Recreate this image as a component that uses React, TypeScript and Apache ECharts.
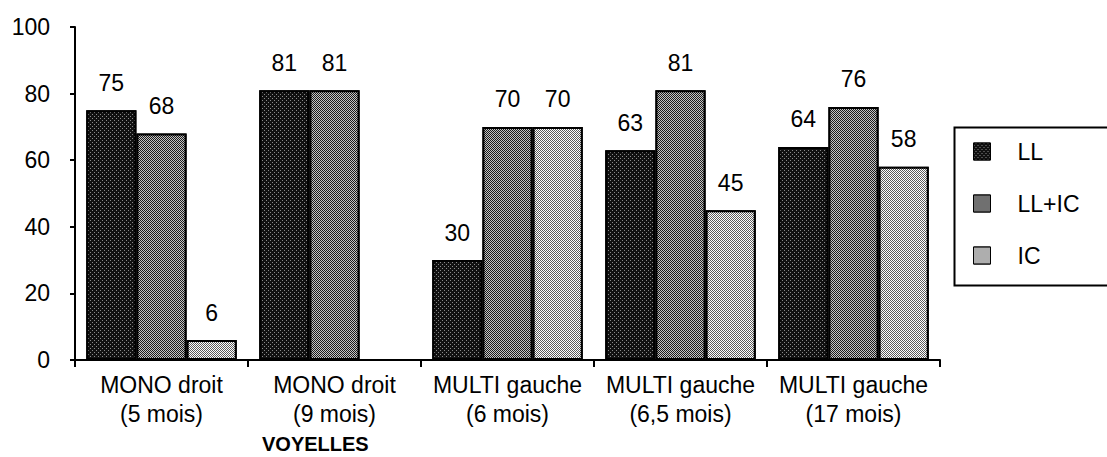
import React, { useEffect, useRef } from "react";
import * as echarts from "echarts";

const categories = [
  "MONO droit\n(5 mois)",
  "MONO droit\n(9 mois)",
  "MULTI gauche\n(6 mois)",
  "MULTI gauche\n(6,5 mois)",
  "MULTI gauche\n(17 mois)",
];
const seriesNames = ["LL", "LL+IC", "IC"];
const llValues: (number | string)[] = [75, 81, 30, 63, 64];
const llicValues: (number | string)[] = [68, 81, 70, 81, 76];
const icValues: (number | string)[] = [6, "-", 70, 45, 58];
const yTicks = [0, 20, 40, 60, 80, 100];
const xAxisTitle = "VOYELLES";

const FONT = "Liberation Sans, Arial, Helvetica, sans-serif";

const styles = [
  {
    color: "#111111",
    decal: {
      symbol: "rect",
      symbolSize: 1,
      dashArrayX: [[1, 3], [0, 2, 1, 1]],
      dashArrayY: [1, 1],
      color: "#8a8a8a",
    },
  },
  {
    color: "#1c1c1c",
    decal: {
      symbol: "rect",
      symbolSize: 1,
      dashArrayX: [[1, 1], [0, 1, 1, 0]],
      dashArrayY: [1, 0],
      color: "#c4c4c4",
    },
  },
  {
    color: "#5c5c5c",
    decal: {
      symbol: "rect",
      symbolSize: 1,
      dashArrayX: [[1, 1], [0, 1, 1, 0]],
      dashArrayY: [1, 0],
      color: "#ffffff",
    },
  },
];

export default function App() {
  const ref = useRef<HTMLDivElement>(null);
  useEffect(() => {
    if (!ref.current) return;
    const chart = echarts.init(ref.current, null, { renderer: "svg" });
    const dataSets = [llValues, llicValues, icValues];
    chart.setOption({
      animation: false,
      backgroundColor: "#ffffff",
      textStyle: { fontFamily: FONT },
      grid: { left: 75, right: 167, top: 27, bottom: 97 },
      legend: {
        orient: "vertical",
        left: 968,
        top: 135,
        icon: "rect",
        itemWidth: 17,
        itemHeight: 17,
        itemGap: 29,
        data: seriesNames,
        textStyle: {
          fontSize: 23,
          lineHeight: 23,
          color: "#000",
          fontFamily: FONT,
          padding: [0, 0, 0, 22],
        },
        itemStyle: { borderColor: "#000", borderWidth: 1 },
      },
      xAxis: {
        type: "category",
        data: categories,
        axisLine: { lineStyle: { color: "#000", width: 2 } },
        axisTick: { show: true, length: 7, lineStyle: { color: "#000", width: 2 } },
        axisLabel: {
          interval: 0,
          color: "#000",
          fontSize: 23,
          fontFamily: FONT,
          margin: 10,
          lineHeight: 29,
        },
      },
      yAxis: {
        type: "value",
        min: 0,
        max: 100,
        interval: 20,
        splitLine: { show: false },
        axisLine: { show: true, lineStyle: { color: "#000", width: 2 } },
        axisTick: { show: true, length: 5, lineStyle: { color: "#000", width: 2 } },
        axisLabel: {
          color: "#000",
          fontSize: 23,
          fontFamily: FONT,
          margin: 25,
          padding: [0, 0, 9, 0],
          formatter: (v: number) => (yTicks.includes(v) ? String(v) : ""),
        },
      },
      series: dataSets.map((d, i) => ({
        name: seriesNames[i],
        type: "bar",
        data: d,
        barGap: "0%",
        barCategoryGap: "13%",
        itemStyle: { ...styles[i], borderColor: "#000", borderWidth: 2 },
        label: {
          show: true,
          position: "top",
          distance: 16,
          color: "#000",
          fontSize: 23,
          fontFamily: FONT,
        },
      })),
      graphic: [
        {
          type: "rect",
          left: 952,
          top: 125,
          shape: { width: 170, height: 158 },
          style: { fill: "none", stroke: "#000", lineWidth: 2 },
          z: 10,
        },
        {
          type: "text",
          left: 262,
          top: 434,
          style: {
            text: xAxisTitle,
            fontSize: 20,
            fontWeight: "bold",
            fontFamily: FONT,
            fill: "#000",
          },
        },
      ],
    });
    return () => chart.dispose();
  }, []);
  return (
    <div
      ref={ref}
      style={{ position: "fixed", left: 0, top: 0, width: 1107, height: 457 }}
    />
  );
}
